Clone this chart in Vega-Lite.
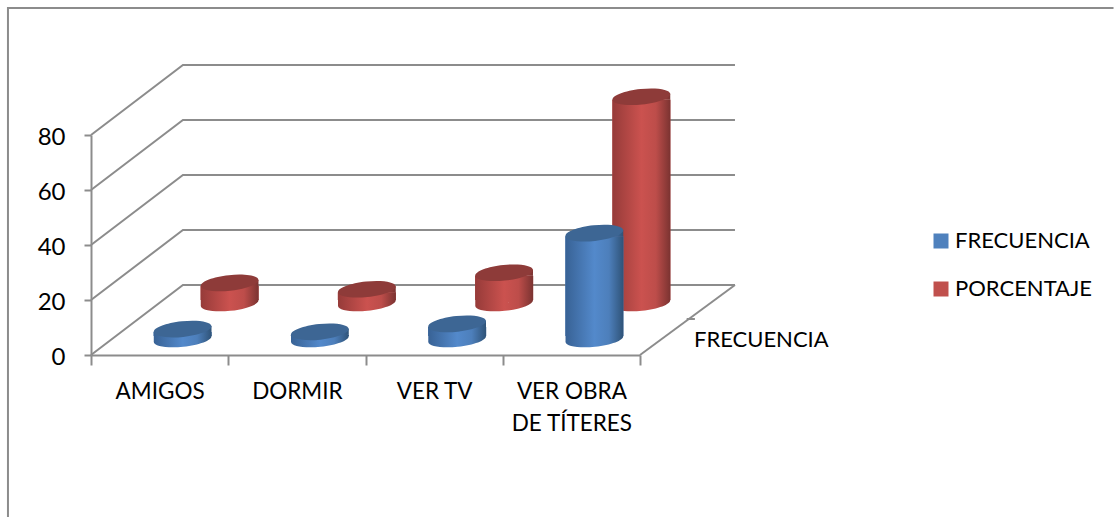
{"$schema":"https://vega.github.io/schema/vega-lite/v6.json","width":549,"height":220,"autosize":"none","padding":{"left":91,"top":135,"right":474,"bottom":162},"background":"white","config":{"view":{"stroke":null},"font":"Lato"},
"datasets":{
"barras":[
{"categoria":"AMIGOS","serie":"FRECUENCIA","valor":3.6},{"categoria":"DORMIR","serie":"FRECUENCIA","valor":2.6},{"categoria":"VER TV","serie":"FRECUENCIA","valor":5.5},{"categoria":"VER OBRA DE TÍTERES","serie":"FRECUENCIA","valor":38.5},
{"categoria":"AMIGOS","serie":"PORCENTAJE","valor":7.3},{"categoria":"DORMIR","serie":"PORCENTAJE","valor":5},{"categoria":"VER TV","serie":"PORCENTAJE","valor":11},{"categoria":"VER OBRA DE TÍTERES","serie":"PORCENTAJE","valor":75}],
"marco":[
{"linea":"p0","pos":0,"valor":0},{"linea":"p0","pos":0.67,"valor":25.45},{"linea":"p0","pos":4.692,"valor":25.45},
{"linea":"p20","pos":0,"valor":20},{"linea":"p20","pos":0.67,"valor":45.45},{"linea":"p20","pos":4.692,"valor":45.45},
{"linea":"p40","pos":0,"valor":40},{"linea":"p40","pos":0.67,"valor":65.45},{"linea":"p40","pos":4.692,"valor":65.45},
{"linea":"p60","pos":0,"valor":60},{"linea":"p60","pos":0.67,"valor":85.45},{"linea":"p60","pos":4.692,"valor":85.45},
{"linea":"p80","pos":0,"valor":80},{"linea":"p80","pos":0.67,"valor":105.45},{"linea":"p80","pos":4.692,"valor":105.45},
{"linea":"suelo","pos":4,"valor":0},{"linea":"suelo","pos":4.692,"valor":25.45},
{"linea":"fondo","pos":4.34,"valor":13.1},{"linea":"fondo","pos":4.40,"valor":13.1},
{"linea":"borde","pos":-0.605,"valor":-59},{"linea":"borde","pos":-0.605,"valor":126.2},{"linea":"borde","pos":7.45,"valor":126.2}],
"profundidad":[{"pos":4.393,"valor":5.45,"texto":"FRECUENCIA"}]},
"encoding":{"y":{"field":"valor","type":"quantitative","scale":{"domain":[0,80],"nice":false},"axis":{"values":[0,20,40,60,80],"title":null,"grid":false,"domainColor":"#8c8c8c","domainWidth":2,"tickColor":"#8c8c8c","tickWidth":2,"tickSize":7,"labelPadding":19,"labelOffset":2,"labelFont":"Lato","labelFontSize":24,"labelColor":"#000000"}}},
"layer":[
{"data":{"name":"marco"},"mark":{"type":"line","stroke":"#8c8c8c","strokeWidth":2,"clip":false},"encoding":{"x":{"field":"pos","type":"quantitative","scale":{"domain":[0,4],"nice":false,"zero":false},"axis":null},"detail":{"field":"linea"},"order":{"value":null}}},
{"data":{"name":"profundidad"},"mark":{"type":"text","align":"left","baseline":"middle","font":"Lato","fontSize":22,"fill":"#000000"},"encoding":{"x":{"field":"pos","type":"quantitative","scale":{"domain":[0,4],"nice":false,"zero":false},"axis":null},"text":{"field":"texto"}}},
{"data":{"name":"barras"},
"encoding":{"x":{"field":"categoria","type":"nominal","sort":null,"scale":{"type":"band","paddingInner":0,"paddingOuter":0},"axis":{"title":null,"labelAngle":0,"tickBand":"extent","domainColor":"#8c8c8c","domainWidth":2,"tickColor":"#8c8c8c","tickWidth":2,"tickSize":10,"labelPadding":15,"labelFont":"Lato","labelFontSize":22.5,"labelColor":"#000000","labelLineHeight":32,"labelLimit":0,"labelExpr":"datum.label == 'VER OBRA DE TÍTERES' ? ['VER OBRA','DE TÍTERES'] : datum.label"}}},
"layer":[
{"transform":[{"filter":"datum.serie === 'PORCENTAJE'"}],"mark":{"type":"bar","width":58,"xOffset":70,"yOffset":-49,"y2Offset":-55},"encoding":{"y2":{"datum":0},"color":{"field":"serie","type":"nominal","scale":{"domain":["FRECUENCIA","PORCENTAJE"],"range":["#4f81bd","#c0504d"]},"legend":{"title":null,"orient":"none","legendX":839,"legendY":95,"symbolType":"square","symbolSize":225,"symbolStrokeWidth":0,"labelFont":"Lato","labelFontSize":22,"labelColor":"#000000","labelOffset":3,"labelLimit":0,"rowPadding":26}}}},
{"transform":[{"filter":"datum.serie === 'PORCENTAJE'"}],"mark":{"type":"point","filled":true,"opacity":1,"xOffset":70,"yOffset":-52,"size":3364,"shape":"M-0.995,0.104A1,0.27,-6,1,1,0.995,-0.104A1,0.27,-6,1,1,-0.995,0.104ZM-0.995,0.104L-0.995,-0.104L0.995,-0.104Z","fill":{"gradient":"linear","x1":0,"x2":1,"y1":0,"y2":0,"stops":[{"offset":0,"color":"#963b39"},{"offset":0.5,"color":"#cb524f"},{"offset":0.75,"color":"#bd4d4a"},{"offset":1,"color":"#7b3331"}]}},"encoding":{"y":{"datum":0}}},
{"transform":[{"filter":"datum.serie === 'PORCENTAJE'"}],"mark":{"type":"bar","width":58,"xOffset":70,"yOffset":-49,"y2Offset":-55,"fill":{"gradient":"linear","x1":0,"x2":1,"y1":0,"y2":0,"stops":[{"offset":0,"color":"#963b39"},{"offset":0.5,"color":"#cb524f"},{"offset":0.75,"color":"#bd4d4a"},{"offset":1,"color":"#7b3331"}]}},"encoding":{"y2":{"datum":0}}},
{"transform":[{"filter":"datum.serie === 'PORCENTAJE'"}],"mark":{"type":"point","filled":true,"opacity":1,"xOffset":70,"yOffset":-52,"size":3364,"shape":"M-0.995,0.104L0.995,-0.104L0.995,0.104Z","fill":{"gradient":"linear","x1":0,"x2":1,"y1":0,"y2":0,"stops":[{"offset":0,"color":"#963b39"},{"offset":0.5,"color":"#cb524f"},{"offset":0.75,"color":"#bd4d4a"},{"offset":1,"color":"#7b3331"}]}}},
{"transform":[{"filter":"datum.serie === 'PORCENTAJE'"}],"mark":{"type":"point","filled":true,"opacity":1,"xOffset":70,"yOffset":-52,"size":3364,"shape":"M-0.995,0.104A1,0.27,-6,1,1,0.995,-0.104A1,0.27,-6,1,1,-0.995,0.104Z","fill":"#8e3b39"}},
{"transform":[{"filter":"datum.serie === 'FRECUENCIA'"}],"mark":{"type":"bar","width":58,"xOffset":23,"yOffset":-13,"y2Offset":-19},"encoding":{"y2":{"datum":0},"color":{"field":"serie","type":"nominal"}}},
{"transform":[{"filter":"datum.serie === 'FRECUENCIA'"}],"mark":{"type":"point","filled":true,"opacity":1,"xOffset":23,"yOffset":-16,"size":3364,"shape":"M-0.995,0.104A1,0.27,-6,1,1,0.995,-0.104A1,0.27,-6,1,1,-0.995,0.104ZM-0.995,0.104L-0.995,-0.104L0.995,-0.104Z","fill":{"gradient":"linear","x1":0,"x2":1,"y1":0,"y2":0,"stops":[{"offset":0,"color":"#386295"},{"offset":0.5,"color":"#5389cb"},{"offset":0.75,"color":"#4d7fbb"},{"offset":1,"color":"#2f5378"}]}},"encoding":{"y":{"datum":0}}},
{"transform":[{"filter":"datum.serie === 'FRECUENCIA'"}],"mark":{"type":"bar","width":58,"xOffset":23,"yOffset":-13,"y2Offset":-19,"fill":{"gradient":"linear","x1":0,"x2":1,"y1":0,"y2":0,"stops":[{"offset":0,"color":"#386295"},{"offset":0.5,"color":"#5389cb"},{"offset":0.75,"color":"#4d7fbb"},{"offset":1,"color":"#2f5378"}]}},"encoding":{"y2":{"datum":0}}},
{"transform":[{"filter":"datum.serie === 'FRECUENCIA'"}],"mark":{"type":"point","filled":true,"opacity":1,"xOffset":23,"yOffset":-16,"size":3364,"shape":"M-0.995,0.104L0.995,-0.104L0.995,0.104Z","fill":{"gradient":"linear","x1":0,"x2":1,"y1":0,"y2":0,"stops":[{"offset":0,"color":"#386295"},{"offset":0.5,"color":"#5389cb"},{"offset":0.75,"color":"#4d7fbb"},{"offset":1,"color":"#2f5378"}]}}},
{"transform":[{"filter":"datum.serie === 'FRECUENCIA'"}],"mark":{"type":"point","filled":true,"opacity":1,"xOffset":23,"yOffset":-16,"size":3364,"shape":"M-0.995,0.104A1,0.27,-6,1,1,0.995,-0.104A1,0.27,-6,1,1,-0.995,0.104Z","fill":"#3d6694"}}
]}
],
"resolve":{"scale":{"x":"independent"},"axis":{"x":"independent"}}}
